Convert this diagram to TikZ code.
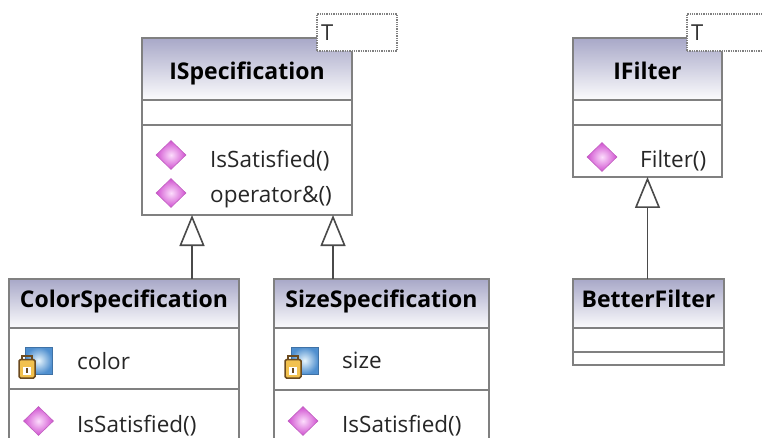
\documentclass[tikz,border=0pt]{standalone}
\usepackage{fontspec}
\setmainfont{Open Sans}
\usetikzlibrary{arrows.meta,positioning,shapes.geometric}

\definecolor{umlhead}{HTML}{A8A8C8}
\definecolor{umlline}{HTML}{808080}
\definecolor{umlarrow}{HTML}{4A4A4A}
\definecolor{methdark}{HTML}{D050D0}
\definecolor{methlight}{HTML}{FCDDFC}
\definecolor{methedge}{HTML}{C060C0}
\definecolor{fielddark}{HTML}{4F8FCF}
\definecolor{fieldlight}{HTML}{E8F5FC}
\definecolor{lockfill}{HTML}{F2C14E}
\definecolor{lockedge}{HTML}{6B4A1E}

\tikzset{
  compart/.style={draw=umlline, line width=1.4pt, rectangle, inner sep=0pt, outer sep=0pt},
  header/.style={compart, top color=umlhead, bottom color=white!96!umlhead},
  title/.style={anchor=base, inner sep=0pt, font=\bfseries\fontsize{23}{27}\selectfont},
  item/.style={anchor=base west, inner sep=0pt, font=\fontsize{22.5}{27}\selectfont, text=black!85},
  tparam/.style={draw=umlline, densely dotted, line width=1.3pt, fill=white,
    minimum width=80, minimum height=37, text width=72, inner xsep=4pt, align=left,
    font=\fontsize{22}{26}\selectfont, text=black!80},
  meth/.style={diamond, inner sep=0pt, minimum width=30, minimum height=29,
    draw=methedge, line width=0.6pt, inner color=methlight, outer color=methdark},
  inherit/.style={draw=umlarrow, line width=1.6pt, -{Triangle[open, length=31pt, width=25pt]}},
  fieldicon/.pic={
    \shade[inner color=fieldlight, outer color=fielddark, draw=fielddark!80!black, line width=0.5pt]
      (-13.5,-13.5) rectangle (13.5,13.5);
    \draw[lockedge, line width=1.3pt] (-16.5,-1) -- (-16.5,-4.5) -- (-6.5,-4.5) -- (-6.5,-1);
    \draw[fill=lockfill, draw=lockedge, line width=1.5pt, rounded corners=1.5pt] (-19.5,-1) rectangle (-3.5,17.5);
    \fill[white] (-15.5,6) rectangle (-7.5,14);
    \fill[lockedge] (-12.5,7) rectangle (-10.5,12);
  }
}

\begin{document}
\begin{tikzpicture}[x=1pt,y=-1pt]
  \clip (0,0) rectangle (762,438);

  % class boxes: header, attributes, operations
  \foreach \n/\cname/\x/\w/\yt/\ha/\hb/\hc/\bl in {
    s/ISpecification/247/210/38/62/25/90/80,
    c/ColorSpecification/124/230/279/49/61/71/307,
    z/SizeSpecification/381.5/215/279/49/62/71/307,
    f/IFilter/647.5/149/38/62/25/52/80,
    b/BetterFilter/648.5/151/279/49/24/13/307} {
    \node[header, minimum width=\w, minimum height=\ha] (\n-h) at (\x,\yt+\ha/2) {};
    \node[title] (\n-n) at (\x,\bl) {\cname};
    \node[compart, minimum width=\w, minimum height=\hb, below=0pt of \n-h] (\n-a) {};
    \node[compart, minimum width=\w, minimum height=\hc, below=0pt of \n-a] (\n-m) {};
  }

  % template parameters
  \node[tparam] (s-p) at (357,32.5) {T};
  \node[tparam] (f-p) at (727,32.5) {T};

  % members
  \node[meth] (s-d1) at (171,155) {};
  \node[item] (s-l1) at (210,168) {IsSatisfied()};
  \node[meth] (s-d2) at (171,193) {};
  \node[item] (s-l2) at (210,203) {operator\&()};

  \pic (c-i) at (38.5,360.5) {fieldicon};
  \node[item] (c-l1) at (77,369) {color};
  \node[meth] (c-d1) at (38.5,421) {};
  \node[item] (c-l2) at (77,432) {IsSatisfied()};

  \pic (z-i) at (304.5,360.5) {fieldicon};
  \node[item] (z-l1) at (342,368) {size};
  \node[meth] (z-d1) at (303,421) {};
  \node[item] (z-l2) at (342,432) {IsSatisfied()};

  \node[meth] (f-d1) at (602,157) {};
  \node[item] (f-l1) at (640,168) {Filter()};

  % generalisations
  \coordinate (g-c) at (192,0);
  \coordinate (g-z) at (333,0);
  \draw[inherit] (g-c |- c-h.north) -- (g-c |- s-m.south);
  \draw[inherit] (g-z |- z-h.north) -- (g-z |- s-m.south);
  \draw[inherit] (b-h.north -| f-m.south) -- (f-m.south);
\end{tikzpicture}
\end{document}
